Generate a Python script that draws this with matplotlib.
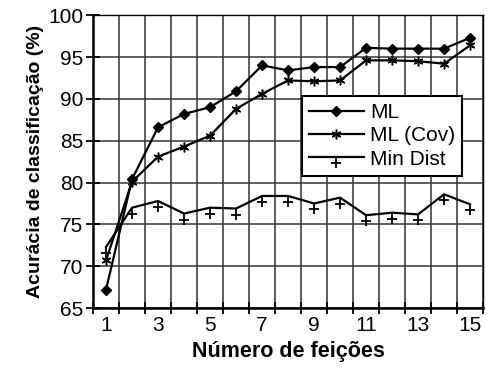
import matplotlib
matplotlib.use("Agg")
import matplotlib.pyplot as plt
import numpy as np
from matplotlib.path import Path

plt.rcParams['font.family'] = ['Liberation Sans', 'DejaVu Sans']

features = np.arange(1, 16)
ml = [67.2, 80.4, 86.6, 88.2, 89.0, 90.9, 94.0, 93.4, 93.8, 93.8, 96.1, 96.0, 96.0, 96.0, 97.3]
ml_cov = [70.7, 80.1, 83.1, 84.3, 85.6, 88.8, 90.6, 92.2, 92.1, 92.2, 94.6, 94.6, 94.5, 94.2, 96.4]
min_dist = [72.3, 77.0, 77.8, 76.3, 77.0, 76.9, 78.4, 78.4, 77.5, 78.2, 76.1, 76.4, 76.2, 78.6, 77.4]

# "+" marker that hangs below the line, like in the scanned figure
plus_low = Path([(-1, -1.1), (1, -1.1), (0, 0), (0, -2.2)],
                [Path.MOVETO, Path.LINETO, Path.MOVETO, Path.LINETO])

fig = plt.figure(figsize=(4.87, 3.79), dpi=100)
ax = fig.add_axes([0.191, 0.187, 0.801, 0.773])

ax.plot(features, ml, color='black', lw=1.6, marker='D', ms=5.5, label='ML')
ax.plot(features, ml_cov, color='black', lw=1.6, marker=(6, 2, 0), ms=7, mew=1.1, label='ML (Cov)')
ax.plot(features, min_dist, color='black', lw=1.6, marker=plus_low, ms=16, mew=1.3, label='Min Dist')

ax.set_xlim(0.5, 15.5)
ax.set_ylim(65, 100)
ax.set_xticks(np.arange(0.5, 16, 1))
ax.set_xticklabels([])
ax.set_xticks(np.arange(1, 16, 2), minor=True)
ax.set_xticklabels([str(v) for v in range(1, 16, 2)], minor=True, fontsize=15)
ax.set_yticks(np.arange(65, 101, 5))
ax.tick_params(axis='y', labelsize=15, direction='inout', length=10, width=1.3, pad=2)
ax.tick_params(axis='x', which='major', direction='inout', length=8, width=1.3)
ax.tick_params(axis='x', which='minor', length=0, pad=6)
ax.grid(True, which='major', color='#333333', lw=1.1)

for side in ['top', 'right']:
    ax.spines[side].set_linewidth(1.0)
for side in ['left', 'bottom']:
    ax.spines[side].set_linewidth(1.8)

ax.set_xlabel('Número de feições', fontsize=15.5, fontweight='bold', labelpad=4)
ax.set_ylabel('Acurácia de classificação (%)', fontsize=14, fontweight='bold', labelpad=3)

leg = ax.legend(loc='upper left', bbox_to_anchor=(0.536, 0.724), fontsize=15,
                frameon=True, fancybox=False, edgecolor='black', framealpha=1,
                handlelength=2.6, handletextpad=0.3, borderpad=0.35, labelspacing=0.2,
                borderaxespad=0)
leg.get_frame().set_linewidth(1.5)

fig.savefig('out.png', dpi=100)
